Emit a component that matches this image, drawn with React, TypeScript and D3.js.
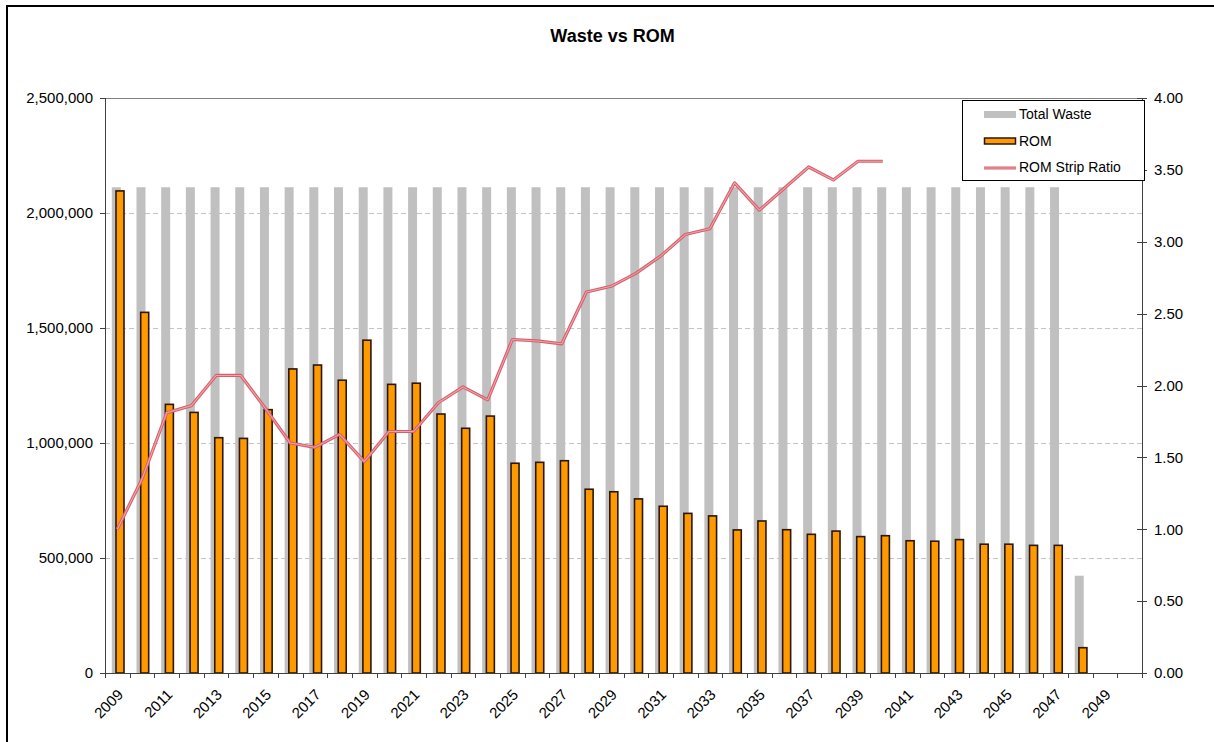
import React from "react";
import * as d3 from "d3";

const years: string[] = [
  "2009","2010","2011","2012","2013","2014","2015","2016","2017","2018",
  "2019","2020","2021","2022","2023","2024","2025","2026","2027","2028",
  "2029","2030","2031","2032","2033","2034","2035","2036","2037","2038",
  "2039","2040","2041","2042","2043","2044","2045","2046","2047","2048",
  "2049","2050",
];

const totalWaste: (number | null)[] = [
  2112000, 2112000, 2112000, 2112000, 2112000, 2112000, 2112000, 2112000, 2112000, 2112000,
  2112000, 2112000, 2112000, 2112000, 2112000, 2112000, 2112000, 2112000, 2112000, 2112000,
  2112000, 2112000, 2112000, 2112000, 2112000, 2112000, 2112000, 2112000, 2112000, 2112000,
  2112000, 2112000, 2112000, 2112000, 2112000, 2112000, 2112000, 2112000, 2112000, 423000,
  null, null,
];

const rom: (number | null)[] = [
  2096000, 1568000, 1168000, 1133000, 1023000, 1020000, 1145000, 1322000, 1339000, 1273000,
  1447000, 1255000, 1260000, 1126000, 1064000, 1117000, 912000, 916000, 923000, 799000,
  788000, 757000, 725000, 694000, 683000, 622000, 661000, 623000, 603000, 617000,
  593000, 597000, 575000, 573000, 580000, 560000, 560000, 555000, 555000, 110000,
  null, null,
];

const stripRatio: (number | null)[] = [
  1.0, 1.35, 1.81, 1.86, 2.07, 2.07, 1.84, 1.6, 1.57, 1.66,
  1.47, 1.68, 1.68, 1.88, 1.99, 1.9, 2.32, 2.31, 2.29, 2.65,
  2.69, 2.78, 2.9, 3.05, 3.09, 3.41, 3.22, 3.37, 3.52, 3.43,
  3.56, 3.56, null, null, null, null, null, null, null, null,
  null, null,
];

const leftTicks: number[] = [0, 500000, 1000000, 1500000, 2000000, 2500000];
const rightTicks: number[] = [0, 0.5, 1, 1.5, 2, 2.5, 3, 3.5, 4];
const xLabels: string[] = [
  "2009","2011","2013","2015","2017","2019","2021","2023","2025","2027","2029",
  "2031","2033","2035","2037","2039","2041","2043","2045","2047","2049",
];

const W = 1214;
const H = 742;
const M = { left: 105, right: 1142, top: 98, bottom: 673 };
const FONT = "'Liberation Sans', Arial, sans-serif";

export default function App() {
  const x = d3.scaleBand<string>().domain(years).range([M.left, M.right]).padding(0);
  const bw = x.bandwidth();
  const yL = d3.scaleLinear().domain([0, 2500000]).range([M.bottom, M.top]);
  const yR = d3.scaleLinear().domain([0, 4]).range([M.bottom, M.top]);
  const fmtL = d3.format(",.0f");
  const fmtR = d3.format(".2f");

  const lineGen = d3
    .line<number | null>()
    .defined((d) => d !== null)
    .x((_, i) => (x(years[i]) as number) + bw / 2)
    .y((d) => yR(d as number));
  const linePath = lineGen(stripRatio) || "";

  const boundaries = years.map((y) => x(y) as number).concat([M.right]);

  return (
    <svg
      width={W}
      height={H}
      style={{ position: "absolute", left: 0, top: 0, background: "#fff" }}
      fontFamily={FONT}
    >
      <rect x={0} y={0} width={W} height={H} fill="#fff" />
      <rect x={7} y={6} width={W + 20} height={H + 20} fill="none" stroke="#000" strokeWidth={2} />

      <text x={612.5} y={41.5} textAnchor="middle" fontSize={18} fontWeight="bold" fill="#000">
        Waste vs ROM
      </text>

      {/* gridlines */}
      {leftTicks
        .filter((t) => t > 0 && t < 2500000)
        .map((t) => (
          <line
            key={"g" + t}
            x1={M.left}
            x2={M.right}
            y1={Math.round(yL(t)) + 0.5}
            y2={Math.round(yL(t)) + 0.5}
            stroke="#c4c4c4"
            strokeDasharray="5,3"
          />
        ))}
      <line x1={M.left} x2={M.right} y1={M.top + 0.5} y2={M.top + 0.5} stroke="#808080" />

      {/* total waste bars */}
      {totalWaste.map((v, i) =>
        v === null ? null : (
          <rect
            key={"w" + i}
            x={(x(years[i]) as number) + 6.8}
            y={yL(v)}
            width={9}
            height={yL(0) - yL(v)}
            fill="#c0c0c0"
          />
        )
      )}

      {/* ROM bars */}
      {rom.map((v, i) =>
        v === null ? null : (
          <rect
            key={"r" + i}
            x={(x(years[i]) as number) + 11}
            y={yL(v)}
            width={8}
            height={yL(0) - yL(v)}
            fill="#ff9900"
            stroke="#2b1608"
            strokeWidth={1.6}
          />
        )
      )}

      {/* strip ratio line */}
      <path d={linePath} fill="none" stroke="#d65f6a" strokeWidth={3.2} strokeLinejoin="round" />
      <path d={linePath} fill="none" stroke="#eea3a9" strokeWidth={1.1} strokeLinejoin="round" />

      {/* left axis */}
      <line x1={M.left + 0.5} x2={M.left + 0.5} y1={M.top} y2={M.bottom} stroke="#404040" />
      {leftTicks.map((t) => (
        <g key={"lt" + t}>
          <line
            x1={M.left - 5}
            x2={M.left}
            y1={Math.round(yL(t)) + 0.5}
            y2={Math.round(yL(t)) + 0.5}
            stroke="#404040"
          />
          <text x={93} y={yL(t)} dy="0.35em" textAnchor="end" fontSize={15} fill="#000">
            {fmtL(t)}
          </text>
        </g>
      ))}

      {/* right axis */}
      <line x1={M.right + 0.5} x2={M.right + 0.5} y1={M.top} y2={M.bottom} stroke="#404040" />
      {rightTicks.map((t) => (
        <g key={"rt" + t}>
          <line
            x1={M.right - 5}
            x2={M.right + 5}
            y1={Math.round(yR(t)) + 0.5}
            y2={Math.round(yR(t)) + 0.5}
            stroke="#404040"
          />
          <text x={1154} y={yR(t)} dy="0.35em" textAnchor="start" fontSize={15} fill="#000">
            {fmtR(t)}
          </text>
        </g>
      ))}

      {/* bottom axis */}
      <line x1={M.left} x2={M.right + 5} y1={M.bottom + 0.5} y2={M.bottom + 0.5} stroke="#404040" />
      {boundaries.map((b, i) => (
        <line
          key={"bt" + i}
          x1={Math.round(b) + 0.5}
          x2={Math.round(b) + 0.5}
          y1={M.bottom}
          y2={M.bottom + 5}
          stroke="#404040"
        />
      ))}
      {xLabels.map((lab) => {
        const cx = (x(lab) as number) + bw / 2;
        return (
          <text
            key={"xl" + lab}
            transform={`translate(${cx + 3},${M.bottom + 19}) rotate(-45)`}
            textAnchor="end"
            fontSize={15}
            fill="#000"
            dy="0.35em"
          >
            {lab}
          </text>
        );
      })}

      {/* legend */}
      <rect x={962.5} y={100.5} width={182} height={80} fill="#fff" stroke="#000" />
      <rect x={984} y={111} width={32} height={7} fill="#c0c0c0" />
      <text x={1019} y={118.5} fontSize={14} fill="#000">Total Waste</text>
      <rect x={984.5} y={138} width={31} height={6} fill="#ff9900" stroke="#2b1608" strokeWidth={1.5} />
      <text x={1019} y={146} fontSize={14} fill="#000">ROM</text>
      <line x1={984} x2={1016} y1={168} y2={168} stroke="#d65f6a" strokeWidth={3} />
      <line x1={984} x2={1016} y1={168} y2={168} stroke="#eea3a9" strokeWidth={1} />
      <text x={1019} y={172} fontSize={14} fill="#000">ROM Strip Ratio</text>
    </svg>
  );
}
